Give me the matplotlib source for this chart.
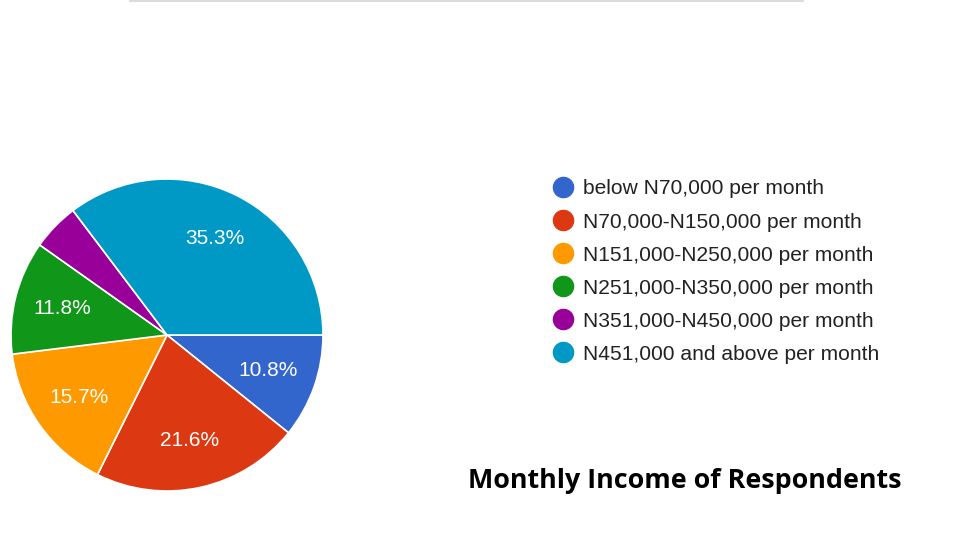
import matplotlib
matplotlib.use('Agg')
import matplotlib.pyplot as plt
from matplotlib.lines import Line2D

# respondents per income band (N = 102)
categories = ['below N70,000 per month', 'N70,000-N150,000 per month',
              'N151,000-N250,000 per month', 'N251,000-N350,000 per month',
              'N351,000-N450,000 per month', 'N451,000 and above per month']
counts = [11, 22, 16, 12, 5, 36]
colors = ['#3366cc', '#dc3912', '#ff9900', '#109618', '#990099', '#0099c6']
title = 'Monthly Income of Respondents'

W, H = 960, 548
fig = plt.figure(figsize=(W / 100, H / 100), dpi=100)
ax = fig.add_axes([0, 0, 1, 1])

def pct(p):
    return f'{p:.1f}%' if p >= 5 else ''

wedges, texts, autotexts = ax.pie(
    counts, colors=colors, center=(167, H - 335), radius=156,
    startangle=0, counterclock=False, autopct=pct, pctdistance=0.69,
    wedgeprops=dict(edgecolor='white', linewidth=1.2),
    textprops=dict(color='white', fontsize=15, family='Liberation Sans'),
    frame=True)
ax.set_xlim(0, W)
ax.set_ylim(0, H)
ax.set_aspect('equal')
ax.axis('off')

# top divider line
fig.add_artist(Line2D([130 / W, 803 / W], [1 - 1 / H, 1 - 1 / H],
                      color='#dadce0', linewidth=1.5))

handles = [Line2D([], [], marker='o', linestyle='', markersize=14.5,
                  markerfacecolor=c, markeredgecolor=c) for c in colors]
ax.legend(handles, categories, loc='upper left',
          bbox_to_anchor=(550 / W, 1 - 179.5 / H), bbox_transform=fig.transFigure,
          frameon=False, prop=dict(family='Liberation Sans', size=15.1),
          labelspacing=0.67, handletextpad=0.35, handlelength=1.2,
          borderaxespad=0, borderpad=0, labelcolor='#222222')

fig.text(468 / W, 1 - 488 / H, title, fontsize=19.4, fontweight='bold',
         family='Open Sans', color='black', ha='left', va='baseline')

fig.savefig('out.png', dpi=100)
